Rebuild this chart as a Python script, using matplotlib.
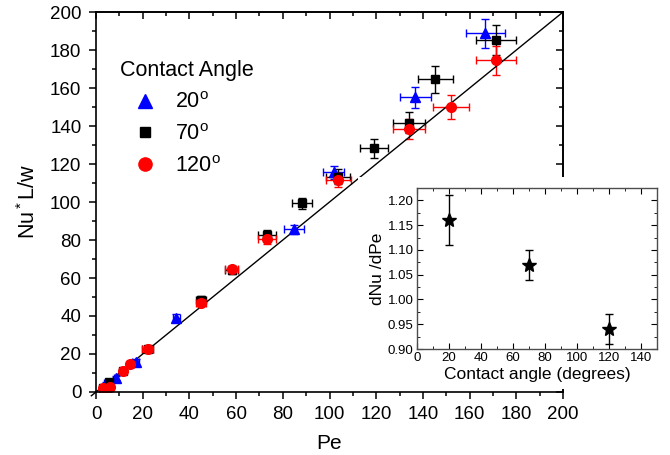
import matplotlib
matplotlib.use("Agg")
import matplotlib.pyplot as plt
from matplotlib.lines import Line2D
from matplotlib.patches import Rectangle
from matplotlib.ticker import MultipleLocator, FormatStrFormatter

plt.rcParams["font.family"] = ["Liberation Sans", "DejaVu Sans"]
plt.rcParams["mathtext.fontset"] = "custom"
plt.rcParams["mathtext.rm"] = "Liberation Sans"
plt.rcParams["mathtext.it"] = "Liberation Sans:italic"

# 20 degrees
pe_20 = [4.1, 8.6, 17.0, 34.3, 84.8, 101.9, 136.8, 166.7]
nu_20 = [4.6, 7.5, 15.8, 39.0, 85.6, 115.6, 155.1, 188.8]
pe_err_20 = [0.5, 0.9, 1.5, 1.5, 4.3, 4.5, 6.8, 8.3]
nu_err_20 = [0.5, 1.0, 1.5, 1.8, 2.5, 3.5, 5.6, 7.8]

# 70 degrees
pe_70 = [2.9, 5.7, 11.4, 22.1, 45.0, 58.1, 73.2, 88.4, 103.6, 119.1, 133.9, 145.2, 171.2]
nu_70 = [1.9, 5.4, 11.2, 22.6, 48.4, 64.2, 82.6, 99.3, 113.3, 128.2, 141.8, 164.6, 185.3]
pe_err_70 = [0.3, 0.6, 1.1, 2.2, 2.3, 2.9, 3.7, 4.3, 5.2, 6.0, 6.8, 7.5, 8.6]
nu_err_70 = [0.5, 0.8, 1.2, 1.5, 2.0, 2.0, 2.5, 3.0, 4.0, 4.8, 5.5, 7.0, 8.0]

# 120 degrees
pe_120 = [2.9, 6.0, 11.4, 14.6, 22.1, 45.0, 58.1, 73.2, 103.8, 133.9, 151.9, 171.2]
nu_120 = [2.0, 2.8, 11.0, 14.7, 22.8, 47.0, 64.5, 80.4, 111.6, 138.3, 150.0, 174.6]
pe_err_120 = [0.3, 0.6, 1.1, 1.5, 2.2, 2.3, 2.9, 3.7, 5.3, 6.8, 7.7, 8.6]
nu_err_120 = [0.5, 0.6, 1.0, 1.0, 1.5, 2.0, 2.0, 2.5, 3.5, 5.3, 6.1, 7.5]

# inset: slope vs contact angle
angle = [20, 70, 120]
slope = [1.16, 1.07, 0.94]
slope_err = [0.05, 0.03, 0.03]

fig = plt.figure(figsize=(6.7, 4.55), dpi=100)
ax = fig.add_axes([0.1433, 0.1385, 0.697, 0.835])

series = [
    (pe_20, nu_20, pe_err_20, nu_err_20, "^", "#0000ff", 7.5),
    (pe_70, nu_70, pe_err_70, nu_err_70, "s", "black", 6),
    (pe_120, nu_120, pe_err_120, nu_err_120, "o", "#ff0000", 7),
]
for pe, nu, xe, ye, m, c, ms in series:
    ax.errorbar(pe, nu, xerr=xe, yerr=ye, fmt=m, color=c, ms=ms, mec=c,
                ecolor=c, elinewidth=1, capsize=3, capthick=1)

ax.plot([-2, 200], [-2, 200], color="black", lw=1, clip_on=False)

ax.set_xlim(0, 200)
ax.set_ylim(0, 200)
ax.xaxis.set_major_locator(MultipleLocator(20))
ax.xaxis.set_minor_locator(MultipleLocator(10))
ax.yaxis.set_major_locator(MultipleLocator(20))
ax.yaxis.set_minor_locator(MultipleLocator(10))
ax.tick_params(which="both", direction="out", labelsize=13.5, width=1.1)
ax.tick_params(which="major", length=5)
ax.tick_params(which="minor", length=3)
ax.tick_params(axis="y", pad=5.5)
ax.tick_params(axis="x", pad=5)
for s in ax.spines.values():
    s.set_linewidth(1.2)

# mirror axes on top and right with inward ticks
top = ax.secondary_xaxis("top")
right = ax.secondary_yaxis("right")
top.xaxis.set_major_locator(MultipleLocator(20))
top.xaxis.set_minor_locator(MultipleLocator(10))
right.yaxis.set_major_locator(MultipleLocator(20))
right.yaxis.set_minor_locator(MultipleLocator(10))
for sec in (top, right):
    sec.tick_params(which="both", direction="in", labelleft=False, labelright=False,
                    labeltop=False, labelbottom=False, width=1.1)
    sec.tick_params(which="major", length=5)
    sec.tick_params(which="minor", length=3)
    for s in sec.spines.values():
        s.set_linewidth(1.2)

ax.set_xlabel("Pe", fontsize=15, labelpad=8)
ax.set_ylabel(r"Nu$^*$L/w", fontsize=15.5, labelpad=7)

handles = [
    Line2D([], [], ls="none", marker="^", color="#0000ff", ms=9.5),
    Line2D([], [], ls="none", marker="s", color="black", ms=7),
    Line2D([], [], ls="none", marker="o", color="#ff0000", ms=9.5),
]
labels = [r"20$^\mathrm{o}$", r"70$^\mathrm{o}$", r"120$^\mathrm{o}$"]
leg = ax.legend(handles, labels, title="Contact Angle", loc="upper left",
                bbox_to_anchor=(0.051, 0.873), frameon=False, fontsize=15.5,
                title_fontsize=15.5, handlelength=2.3, handletextpad=0.25,
                borderpad=0, borderaxespad=0, labelspacing=0.5, alignment="left")

# white backing behind inset (covers its labels)
fig.add_artist(Rectangle((358 / 670, 1 - 389 / 455), (665 - 358) / 670, (389 - 177) / 455,
                         transform=fig.transFigure, facecolor="white",
                         edgecolor="none", zorder=1))

ins = fig.add_axes([417 / 670, 1 - 349 / 455, 240 / 670, 161 / 455])
ins.set_zorder(2)
ins.errorbar(angle, slope, yerr=slope_err, fmt="*", color="black", ms=10,
             elinewidth=1, capsize=3, capthick=1)
ins.set_xlim(0, 150)
ins.set_ylim(0.90, 1.225)
ins.xaxis.set_major_locator(MultipleLocator(20))
ins.xaxis.set_minor_locator(MultipleLocator(10))
ins.yaxis.set_major_locator(MultipleLocator(0.05))
ins.yaxis.set_minor_locator(MultipleLocator(0.025))
ins.yaxis.set_major_formatter(FormatStrFormatter("%.2f"))
ins.tick_params(which="both", direction="in", top=True, right=True,
                labelsize=9.5, pad=2.5)
ins.tick_params(which="major", length=4)
ins.tick_params(which="minor", length=2)
for s in ins.spines.values():
    s.set_color("0.3")
    s.set_linewidth(1)
ins.set_xlabel("Contact angle (degrees)", fontsize=12.5, labelpad=1.5)
ins.set_ylabel("dNu /dPe", fontsize=12.5, labelpad=2)

fig.savefig("out.png", dpi=100)
